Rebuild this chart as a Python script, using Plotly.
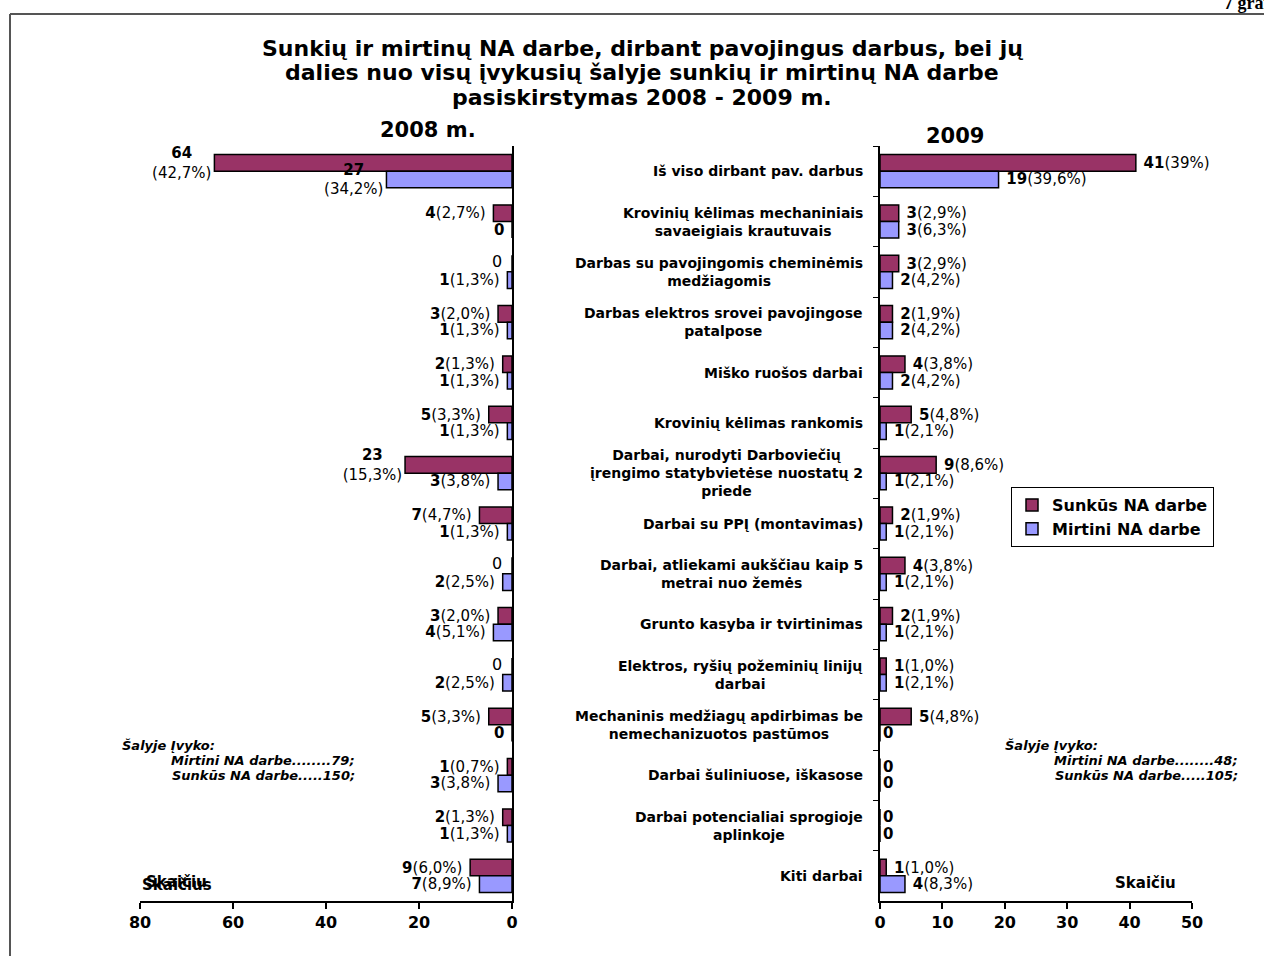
import plotly.graph_objects as go

# ---------------- data ----------------
categories = [
    "Iš viso dirbant pav. darbus",
    "Krovinių kėlimas mechaniniais<br>savaeigiais krautuvais",
    "Darbas su pavojingomis cheminėmis<br>medžiagomis",
    "Darbas elektros srovei pavojingose<br>patalpose",
    "Miško ruošos darbai",
    "Krovinių kėlimas rankomis",
    "Darbai, nurodyti Darboviečių<br>įrengimo statybvietėse nuostatų 2<br>priede",
    "Darbai su PPĮ (montavimas)",
    "Darbai, atliekami aukščiau kaip 5<br>metrai nuo žemės",
    "Grunto kasyba ir tvirtinimas",
    "Elektros, ryšių požeminių linijų<br>darbai",
    "Mechaninis medžiagų apdirbimas be<br>nemechanizuotos pastūmos",
    "Darbai šuliniuose, iškasose",
    "Darbai potencialiai sprogioje<br>aplinkoje",
    "Kiti darbai",
]

sunkus_2008 = [64, 4, 0, 3, 2, 5, 23, 7, 0, 3, 0, 5, 1, 2, 9]
sunkus_2008_pct = ["42,7", "2,7", "", "2,0", "1,3", "3,3", "15,3", "4,7", "", "2,0", "", "3,3", "0,7", "1,3", "6,0"]
mirtini_2008 = [27, 0, 1, 1, 1, 1, 3, 1, 2, 4, 2, 0, 3, 1, 7]
mirtini_2008_pct = ["34,2", "", "1,3", "1,3", "1,3", "1,3", "3,8", "1,3", "2,5", "5,1", "2,5", "", "3,8", "1,3", "8,9"]

sunkus_2009 = [41, 3, 3, 2, 4, 5, 9, 2, 4, 2, 1, 5, 0, 0, 1]
sunkus_2009_pct = ["39", "2,9", "2,9", "1,9", "3,8", "4,8", "8,6", "1,9", "3,8", "1,9", "1,0", "4,8", "", "", "1,0"]
mirtini_2009 = [19, 3, 2, 2, 2, 1, 1, 1, 1, 1, 1, 0, 0, 0, 4]
mirtini_2009_pct = ["39,6", "6,3", "4,2", "4,2", "4,2", "2,1", "2,1", "2,1", "2,1", "2,1", "2,1", "", "", "", "8,3"]

x_ticks_2008 = [0, 20, 40, 60, 80]
x_ticks_2009 = [0, 10, 20, 30, 40, 50]

series_names = ["Sunkūs NA darbe", "Mirtini NA darbe"]
colors = ["#993366", "#9999FF"]

# ---------------- helpers ----------------
W, H = 1264, 956


def X(px):
    return px / W


def Y(py):
    return 1 - py / H


FONT = "DejaVu Sans"
LBL = 15


def labels(vals, pcts, two_line_min=None, zero_text="<b>0</b>"):
    out = []
    for v, p in zip(vals, pcts):
        if v == 0:
            out.append(zero_text)
        elif two_line_min is not None and v >= two_line_min:
            out.append(f"<b>{v}</b><br>({p}%)")
        else:
            out.append(f" <b>{v}</b>({p}%) ")
    return out


fig = go.Figure()

common = dict(orientation="h", textposition="outside", constraintext="none",
              cliponaxis=False, hoverinfo="skip")

fig.add_trace(go.Bar(
    y=categories, x=sunkus_2008, name=series_names[0], legendgroup="s", showlegend=False,
    marker=dict(color=colors[0], line=dict(color="black", width=1.5)),
    text=labels(sunkus_2008, sunkus_2008_pct, two_line_min=20, zero_text=""),
    textfont=dict(family=FONT, size=LBL, color="black"),
    xaxis="x", yaxis="y", **common))
fig.add_trace(go.Bar(
    y=categories, x=mirtini_2008, name=series_names[1], legendgroup="m", showlegend=False,
    marker=dict(color=colors[1], line=dict(color="black", width=1.5)),
    text=labels(mirtini_2008, mirtini_2008_pct, two_line_min=20, zero_text=""),
    textfont=dict(family=FONT, size=LBL, color="black"),
    xaxis="x", yaxis="y", **common))
fig.add_trace(go.Bar(
    y=categories, x=sunkus_2009, name=series_names[0], legendgroup="s", showlegend=True,
    marker=dict(color=colors[0], line=dict(color="black", width=1.5)),
    text=labels(sunkus_2009, sunkus_2009_pct),
    textfont=dict(family=FONT, size=LBL, color="black"),
    xaxis="x2", yaxis="y2", **common))
fig.add_trace(go.Bar(
    y=categories, x=mirtini_2009, name=series_names[1], legendgroup="m", showlegend=True,
    marker=dict(color=colors[1], line=dict(color="black", width=1.5)),
    text=labels(mirtini_2009, mirtini_2009_pct),
    textfont=dict(family=FONT, size=LBL, color="black"),
    xaxis="x2", yaxis="y2", **common))

tickfont = dict(family=FONT, size=16, color="black", weight="bold")
ydom = [Y(901), Y(146)]

fig.update_layout(
    width=W, height=H,
    margin=dict(l=0, r=0, t=0, b=0, autoexpand=False),
    paper_bgcolor="white", plot_bgcolor="rgba(0,0,0,0)",
    barmode="group", bargap=0.34, bargroupgap=0,
    font=dict(family=FONT, color="black"),
    xaxis=dict(domain=[X(140), X(512)], range=[80, 0], tickvals=x_ticks_2008,
               ticks="outside", ticklen=6, tickwidth=1.5, tickcolor="black",
               showline=True, linecolor="black", linewidth=1.5,
               showgrid=False, zeroline=False, tickfont=tickfont, anchor="y"),
    yaxis=dict(domain=ydom, type="category", categoryorder="array", categoryarray=categories,
               autorange="reversed", side="right", showline=True, linecolor="black",
               linewidth=1.5, showticklabels=False, ticks="", showgrid=False,
               zeroline=False, anchor="x"),
    xaxis2=dict(domain=[X(880), X(1192)], range=[0, 50], tickvals=x_ticks_2009,
                ticks="outside", ticklen=6, tickwidth=1.5, tickcolor="black",
                showline=True, linecolor="black", linewidth=1.5,
                showgrid=False, zeroline=False, tickfont=tickfont, anchor="y2"),
    yaxis2=dict(domain=ydom, type="category", categoryorder="array", categoryarray=categories,
                autorange="reversed", side="left", showline=True, linecolor="black",
                linewidth=1.5, showticklabels=False, ticks="outside", tickson="boundaries",
                ticklen=5, tickwidth=1, tickcolor="black", showgrid=False,
                zeroline=False, anchor="x2"),
    legend=dict(x=X(1011), y=Y(487), xanchor="left", yanchor="top",
                bordercolor="black", borderwidth=1, bgcolor="white",
                font=dict(family=FONT, size=16, color="black", weight="bold"),
                traceorder="normal", itemwidth=30, tracegroupgap=0),
)

ann = []
# zero-value labels for 2008 (drawn at x = 0 on the 2008 axis)
for c, v in zip(categories, sunkus_2008):
    if v == 0:
        ann.append(dict(text="0", x=v, y=c, xref="x", yref="y", xanchor="right",
                        yanchor="middle", xshift=-8, yshift=10, showarrow=False,
                        font=dict(family=FONT, size=16, color="black")))
for c, v in zip(categories, mirtini_2008):
    if v == 0:
        ann.append(dict(text="<b>0</b>", x=v, y=c, xref="x", yref="y", xanchor="right",
                        yanchor="middle", xshift=-6, yshift=-8, showarrow=False,
                        font=dict(family=FONT, size=LBL, color="black")))
# title lines
for txt, yy in [("Sunkių ir mirtinų NA darbe, dirbant pavojingus darbus, bei jų", 48),
                ("dalies nuo visų įvykusių šalyje sunkių ir mirtinų NA darbe", 73),
                ("pasiskirstymas 2008 - 2009 m.", 97)]:
    ann.append(dict(text=txt, x=X(642), y=Y(yy), xref="paper", yref="paper",
                    xanchor="center", yanchor="middle", showarrow=False,
                    font=dict(family=FONT, size=22, color="black", weight="bold")))
# panel titles
ann.append(dict(text="2008 m.", x=X(428), y=Y(130), xref="paper", yref="paper",
                xanchor="center", yanchor="middle", showarrow=False,
                font=dict(family=FONT, size=21, weight="bold")))
ann.append(dict(text="2009", x=X(955), y=Y(136), xref="paper", yref="paper",
                xanchor="center", yanchor="middle", showarrow=False,
                font=dict(family=FONT, size=21, weight="bold")))
# category labels
for c in categories:
    ann.append(dict(text=c, x=X(865), y=c, xref="paper", yref="y",
                    xanchor="right", yanchor="middle", align="center", showarrow=False,
                    font=dict(family=FONT, size=14, weight="bold")))
# country totals notes
ital = dict(family=FONT, size=13, weight="bold", style="italic")
for txt, x, anchor, yy in [("Šalyje Įvyko:", 120, "left", 745),
                           ("Mirtini NA darbe........79;", 357, "right", 760),
                           ("Sunkūs NA darbe.....150;", 357, "right", 775),
                           ("Šalyje Įvyko:", 1003, "left", 745),
                           ("Mirtini NA darbe........48;", 1240, "right", 760),
                           ("Sunkūs NA darbe.....105;", 1240, "right", 775)]:
    ann.append(dict(text=txt, x=X(x), y=Y(yy), xref="paper", yref="paper",
                    xanchor=anchor, yanchor="middle", showarrow=False, font=ital))
# axis unit labels
small = dict(family=FONT, size=15, weight="bold")
for txt, x, yy in [("Skaičius", 140, 885), ("Skaičiu", 144, 882), ("Skaičiu", 1113, 883)]:
    ann.append(dict(text=txt, x=X(x), y=Y(yy), xref="paper", yref="paper",
                    xanchor="left", yanchor="middle", showarrow=False, font=small))
# page header fragment
ann.append(dict(text="7 grafikas", x=X(1222), y=Y(3), xref="paper", yref="paper",
                xanchor="left", yanchor="middle", showarrow=False,
                font=dict(family="Liberation Serif", size=18, weight="bold")))
fig.update_layout(annotations=ann)

# page frame
fig.update_layout(shapes=[
    dict(type="line", xref="paper", yref="paper", x0=X(10), y0=Y(14), x1=X(1270), y1=Y(14),
         line=dict(color="#555555", width=2)),
    dict(type="line", xref="paper", yref="paper", x0=X(10), y0=Y(14), x1=X(10), y1=Y(960),
         line=dict(color="#555555", width=2)),
])

fig.write_html("out.html", config={"displayModeBar": False},
               post_script="document.body.style.margin='0';")
